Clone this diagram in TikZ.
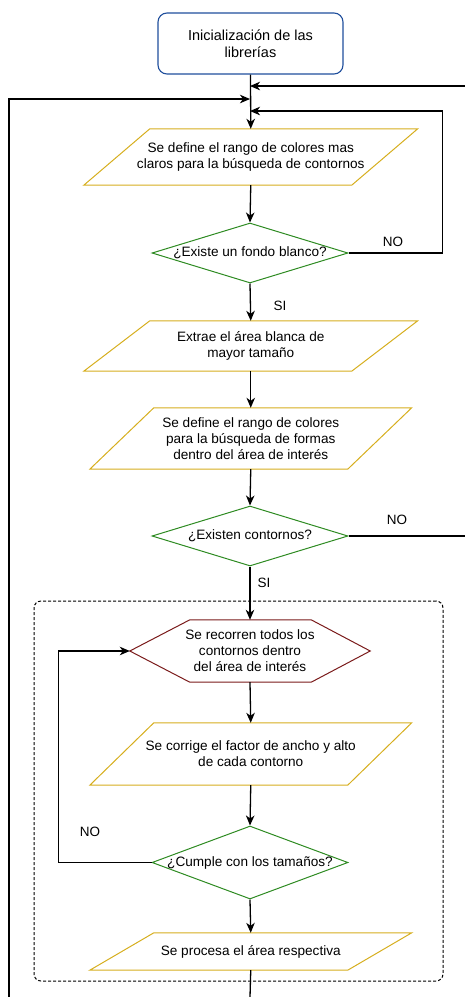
\documentclass[tikz,border=0pt]{standalone}
\usepackage{fontspec}
\setmainfont{Liberation Sans}
\usetikzlibrary{arrows.meta,shapes.geometric,calc}
\definecolor{gold}{HTML}{D6AE1E}
\definecolor{dgreen}{HTML}{2E8B22}
\definecolor{dred}{HTML}{7A1A1A}
\definecolor{dblue}{HTML}{1F4E9C}
\newcommand\pgm[2]{\draw[pgline] ([xshift=#2]#1.north west) -- ([xshift=#2]#1.north east) -- ([xshift=-#2]#1.south east) -- ([xshift=-#2]#1.south west) -- cycle;}
\begin{document}
\begin{tikzpicture}[x=1pt,y=-1pt,
  txt/.style={font=\fontsize{13.6}{16}\selectfont, align=center, inner sep=0pt},
  pbox/.style={txt, rectangle, draw=none},
  pgline/.style={draw=gold, line width=1pt},
  dec/.style={txt, diamond, draw=dgreen, line width=1pt, fill=white, inner sep=0pt},
  startbox/.style={font=\fontsize{14.5}{17}\selectfont, align=center, rectangle, rounded corners=9pt, draw=dblue, line width=1.1pt, minimum width=185, minimum height=61},
  grpbox/.style={rectangle, rounded corners=7pt, draw=black, line width=1pt, dash pattern=on 3pt off 2pt, minimum width=409, minimum height=380},
  hexline/.style={draw=dred, line width=1pt},
  conn/.style={draw=black, line width=1.3pt},
  arr/.style={conn, -{Stealth[length=10pt,width=8.5pt,inset=3pt]}},
  lbl/.style={font=\fontsize{13.5}{16}\selectfont, inner sep=0pt}
]
\useasboundingbox (0,0) rectangle (465,997);

% container
\node[grpbox] (grp) at (238.5,791) {};

% start
\node[startbox] (start) at (250.5,43.5) {Inicialización de las\\librerías};

% parallelograms
\node[pbox, minimum width=267.5, minimum height=56] (p1) at (250.75,157) {Se define el rango de colores mas\\claros para la búsqueda de contornos};
\pgm{p1}{33pt}
\node[dec, minimum width=196, minimum height=60] (d1) at (250,253) {\makebox[0pt]{¿Existe un fondo blanco?}};
\node[pbox, minimum width=267.5, minimum height=50] (p2) at (250.75,346) {Extrae el área blanca de\\mayor tamaño};
\pgm{p2}{33pt}
\node[pbox, minimum width=257.5, minimum height=61] (p3) at (250.75,438.5) {Se define el rango de colores\\para la búsqueda de formas\\dentro del área de interés};
\pgm{p3}{32pt}
\node[dec, minimum width=196, minimum height=60] (d2) at (250,536) {\makebox[0pt]{¿Existen contornos?}};

% hexagon
\node[pbox, minimum width=240, minimum height=62] (hx) at (250,651) {Se recorren todos los\\contornos dentro\\del área de interés};
\draw[hexline] (hx.west) -- ([xshift=60pt]hx.north west) -- ([xshift=-59pt]hx.north east) -- (hx.east) -- ([xshift=-59pt]hx.south east) -- ([xshift=60pt]hx.south west) -- cycle;

\node[pbox, minimum width=257.5, minimum height=62] (p4) at (250.75,754) {Se corrige el factor de ancho y alto\\de cada contorno};
\pgm{p4}{32pt}
\node[dec, minimum width=196, minimum height=73] (d3) at (250,862.5) {\makebox[0pt]{¿Cumple con los tamaños?}};
\node[pbox, minimum width=257.5, minimum height=37] (p5) at (250.75,951.5) {Se procesa el área respectiva};
\pgm{p5}{32pt}

% coordinates
\coordinate (m1) at (250,86);
\coordinate (m2) at (250,99);
\coordinate (m3) at (250,111);
\coordinate (rin) at (465,86);
\coordinate (rout) at (465,536);
\coordinate (lbot) at (9,997);
\coordinate (bot) at (250,997);

% labels
\node[lbl] (no1) at (393,242) {NO};
\node[lbl] (si1) at (280,306) {SI};
\node[lbl] (no2) at (397,520) {NO};
\node[lbl] (si2) at (264,583) {SI};
\node[lbl] (no3) at (90,832) {NO};

% connectors
\draw[arr] (start.south) -- (p1.north);
\draw[arr] (rin) -- (m1);
\draw[arr] (lbot) |- (m2);
\draw[arr] (d1.east) -- ++(94,0) |- (m3);
\draw[arr] (p1.south) -- (d1.north);
\draw[arr] (d1.south) -- (p2.north);
\draw[arr] (p2.south) -- (p3.north);
\draw[arr] (p3.south) -- (d2.north);
\draw[conn] (d2.east) -- (rout);
\draw[arr] (d2.south) -- (hx.north);
\draw[arr] (hx.south) -- (p4.north);
\draw[arr] (p4.south) -- (d3.north);
\draw[arr] (d3.west) -- ++(-93,0) |- (hx.west);
\draw[arr] (d3.south) -- (p5.north);
\draw[conn] (p5.south) -- (bot);
\end{tikzpicture}
\end{document}
